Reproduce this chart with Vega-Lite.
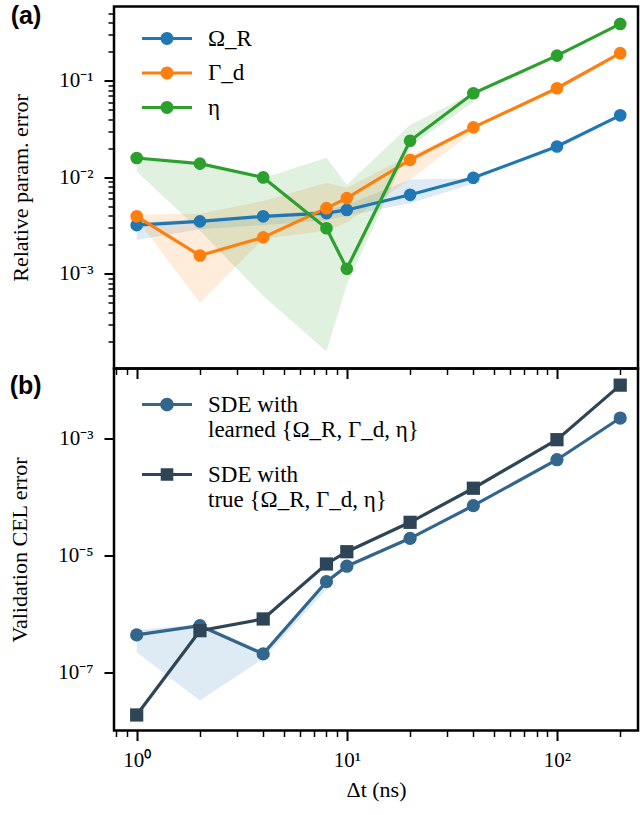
{
  "$schema": "https://vega.github.io/schema/vega-lite/v6.json",
  "padding": {"left": 7, "top": 1.5, "right": 0, "bottom": 5},
  "background": "white",
  "datasets": {
    "params": [
      {"dt": 1, "param": "Ω_R", "err": 0.0032, "lo": 0.00224, "hi": 0.0034},
      {"dt": 2, "param": "Ω_R", "err": 0.0035, "lo": 0.0029, "hi": 0.0037},
      {"dt": 4, "param": "Ω_R", "err": 0.00395, "lo": 0.0032, "hi": 0.0041},
      {"dt": 8, "param": "Ω_R", "err": 0.00427, "lo": 0.0036, "hi": 0.0046},
      {"dt": 10, "param": "Ω_R", "err": 0.0046, "lo": 0.004, "hi": 0.0052},
      {"dt": 20, "param": "Ω_R", "err": 0.0066, "lo": 0.0054, "hi": 0.0095},
      {"dt": 40, "param": "Ω_R", "err": 0.0099, "lo": 0.0086, "hi": 0.0098},
      {"dt": 100, "param": "Ω_R", "err": 0.0209, "lo": null, "hi": null},
      {"dt": 200, "param": "Ω_R", "err": 0.044, "lo": null, "hi": null},
      {"dt": 1, "param": "Γ_d", "err": 0.00395, "lo": 0.0037, "hi": 0.0041},
      {"dt": 2, "param": "Γ_d", "err": 0.00155, "lo": 0.0005, "hi": 0.0042},
      {"dt": 4, "param": "Γ_d", "err": 0.00239, "lo": 0.0023, "hi": 0.0057},
      {"dt": 8, "param": "Γ_d", "err": 0.0048, "lo": 0.0028, "hi": 0.0088},
      {"dt": 10, "param": "Γ_d", "err": 0.0061, "lo": 0.0034, "hi": 0.0078},
      {"dt": 20, "param": "Γ_d", "err": 0.0152, "lo": 0.0095, "hi": 0.017},
      {"dt": 40, "param": "Γ_d", "err": 0.033, "lo": 0.03, "hi": 0.034},
      {"dt": 100, "param": "Γ_d", "err": 0.084, "lo": null, "hi": null},
      {"dt": 200, "param": "Γ_d", "err": 0.194, "lo": null, "hi": null},
      {"dt": 1, "param": "η", "err": 0.0159, "lo": 0.0115, "hi": 0.0159},
      {"dt": 2, "param": "η", "err": 0.0139, "lo": 0.0028, "hi": 0.0135},
      {"dt": 4, "param": "η", "err": 0.01, "lo": 0.00059, "hi": 0.0098},
      {"dt": 8, "param": "η", "err": 0.00297, "lo": 0.000157, "hi": 0.016},
      {"dt": 10, "param": "η", "err": 0.00113, "lo": 0.00077, "hi": 0.0084},
      {"dt": 20, "param": "η", "err": 0.024, "lo": 0.021, "hi": 0.035},
      {"dt": 40, "param": "η", "err": 0.0745, "lo": 0.06, "hi": 0.075},
      {"dt": 100, "param": "η", "err": 0.183, "lo": null, "hi": null},
      {"dt": 200, "param": "η", "err": 0.39, "lo": null, "hi": null}
    ],
    "cel": [
      {"dt": 1, "model": "learned", "err": 4.35e-7, "lo": 2.2e-7, "hi": 5.3e-7},
      {"dt": 2, "model": "learned", "err": 6.25e-7, "lo": 3.3e-8, "hi": 6.6e-7},
      {"dt": 4, "model": "learned", "err": 2.06e-7, "lo": 1.7e-7, "hi": 2.3e-7},
      {"dt": 8, "model": "learned", "err": 3.54e-6, "lo": 2.6e-6, "hi": 3.6e-6},
      {"dt": 10, "model": "learned", "err": 6.5e-6, "lo": null, "hi": null},
      {"dt": 20, "model": "learned", "err": 1.95e-5, "lo": null, "hi": null},
      {"dt": 40, "model": "learned", "err": 7.05e-5, "lo": null, "hi": null},
      {"dt": 100, "model": "learned", "err": 4.3e-4, "lo": null, "hi": null},
      {"dt": 200, "model": "learned", "err": 2.22e-3, "lo": null, "hi": null},
      {"dt": 1, "model": "true", "err": 1.86e-8, "lo": null, "hi": null},
      {"dt": 2, "model": "true", "err": 5.14e-7, "lo": null, "hi": null},
      {"dt": 4, "model": "true", "err": 8.15e-7, "lo": null, "hi": null},
      {"dt": 8, "model": "true", "err": 7.1e-6, "lo": null, "hi": null},
      {"dt": 10, "model": "true", "err": 1.15e-5, "lo": null, "hi": null},
      {"dt": 20, "model": "true", "err": 3.66e-5, "lo": null, "hi": null},
      {"dt": 40, "model": "true", "err": 1.4e-4, "lo": null, "hi": null},
      {"dt": 100, "model": "true", "err": 9.46e-4, "lo": null, "hi": null},
      {"dt": 200, "model": "true", "err": 8.1e-3, "lo": null, "hi": null}
    ]
  },
  "bounds": "flush",
  "spacing": 0,
  "resolve": {
    "scale": {"color": "independent", "fill": "independent", "shape": "independent", "size": "independent"},
    "legend": {"color": "independent", "fill": "independent", "shape": "independent", "size": "independent"}
  },
  "vconcat": [
    {
      "width": 524,
      "height": 362,
      "title": {"text": "(a)", "anchor": "start", "frame": "bounds", "font": "Liberation Sans", "fontSize": 25, "fontWeight": "bold", "color": "black", "offset": 0, "dy": 22, "dx": 1},
      "data": {"name": "params"},
      "layer": [
        {
          "transform": [{"filter": "isValid(datum.lo)"}],
          "mark": {"type": "area", "opacity": 0.15},
          "encoding": {
            "x": {"field": "dt", "type": "quantitative", "scale": {"type": "log", "domain": [0.78, 243], "nice": false},
              "axis": {"orient": "bottom", "values": [1, 10, 100], "labels": false, "tickSize": 10, "tickWidth": 2, "tickColor": "black", "domain": false, "grid": false, "title": null}},
            "y": {"field": "hi", "type": "quantitative", "scale": {"type": "log", "domain": [0.0001045, 0.591], "nice": false},
              "axis": {"orient": "left", "values": [0.001, 0.01, 0.1], "tickSize": 10, "tickWidth": 2, "tickColor": "black", "domain": false, "grid": false, "labelPadding": 11, "titlePadding": 26,
                "labelFont": "Liberation Serif", "labelFontSize": 21, "labelColor": "black", "titleFont": "Liberation Serif", "titleFontSize": 22, "titleFontWeight": "normal", "titleColor": "black",
                "labelExpr": "datum.value > 0.05 ? '10⁻¹' : datum.value > 0.005 ? '10⁻²' : '10⁻³'", "title": "Relative param. error"}},
            "y2": {"field": "lo"},
            "color": {"field": "param", "type": "nominal", "scale": {"domain": ["Ω_R", "Γ_d", "η"], "range": ["#1f77b4", "#ff7f0e", "#2ca02c"]},
              "legend": {"orient": "none", "legendX": 28, "legendY": 15, "title": null, "symbolSize": 1156, "symbolOffset": 8, "labelOffset": 24, "rowPadding": 5.5, "padding": 0,
                "labelFont": "Liberation Serif", "labelFontSize": 23, "labelColor": "black", "labelLimit": 500,
                "symbolType": "M-1.47,-0.09H1.47V0.09H-1.47Z M0.38,0 A0.38,0.38 0 1,1 -0.38,0 A0.38,0.38 0 1,1 0.38,0 Z",
                "symbolStrokeWidth": 0, "symbolOpacity": 1}}
          }
        },
        {
          "mark": {"type": "line", "strokeWidth": 3.2},
          "encoding": {
            "x": {"field": "dt", "type": "quantitative", "axis": null},
            "y": {"field": "err", "type": "quantitative", "axis": null},
            "color": {"field": "param", "type": "nominal", "scale": {"domain": ["Ω_R", "Γ_d", "η"], "range": ["#1f77b4", "#ff7f0e", "#2ca02c"]},
              "legend": {"orient": "none", "legendX": 28, "legendY": 15, "title": null, "symbolSize": 1156, "symbolOffset": 8, "labelOffset": 24, "rowPadding": 5.5, "padding": 0,
                "labelFont": "Liberation Serif", "labelFontSize": 23, "labelColor": "black", "labelLimit": 500,
                "symbolType": "M-1.47,-0.09H1.47V0.09H-1.47Z M0.38,0 A0.38,0.38 0 1,1 -0.38,0 A0.38,0.38 0 1,1 0.38,0 Z",
                "symbolStrokeWidth": 0, "symbolOpacity": 1}}
          }
        },
        {
          "mark": {"type": "point", "filled": true, "size": 160, "opacity": 1},
          "encoding": {
            "x": {"field": "dt", "type": "quantitative",
              "axis": {"orient": "bottom", "values": [0.8, 0.9, 2, 3, 4, 5, 6, 7, 8, 9, 20, 30, 40, 50, 60, 70, 80, 90, 200], "labels": false, "tickSize": 6, "tickWidth": 1.5, "tickColor": "black", "domain": false, "grid": false, "title": null}},
            "y": {"field": "err", "type": "quantitative",
              "axis": {"orient": "left", "values": [0.0002, 0.0003, 0.0004, 0.0005, 0.0006, 0.0007, 0.0008, 0.0009, 0.002, 0.003, 0.004, 0.005, 0.006, 0.007, 0.008, 0.009, 0.02, 0.03, 0.04, 0.05, 0.06, 0.07, 0.08, 0.09, 0.2, 0.3, 0.4, 0.5], "labels": false, "tickSize": 6, "tickWidth": 1.5, "tickColor": "black", "domain": false, "grid": false, "title": null}},
            "color": {"field": "param", "type": "nominal", "scale": {"domain": ["Ω_R", "Γ_d", "η"], "range": ["#1f77b4", "#ff7f0e", "#2ca02c"]},
              "legend": {"orient": "none", "legendX": 28, "legendY": 15, "title": null, "symbolSize": 1156, "symbolOffset": 8, "labelOffset": 24, "rowPadding": 5.5, "padding": 0,
                "labelFont": "Liberation Serif", "labelFontSize": 23, "labelColor": "black", "labelLimit": 500,
                "symbolType": "M-1.47,-0.09H1.47V0.09H-1.47Z M0.38,0 A0.38,0.38 0 1,1 -0.38,0 A0.38,0.38 0 1,1 0.38,0 Z",
                "symbolStrokeWidth": 0, "symbolOpacity": 1}}
          }
        }
      ],
      "resolve": {"axis": {"x": "independent", "y": "independent"}}
    },
    {
      "width": 524,
      "height": 362,
      "title": {"text": "(b)", "anchor": "start", "frame": "bounds", "font": "Liberation Sans", "fontSize": 25, "fontWeight": "bold", "color": "black", "offset": 0, "dy": 30, "dx": 1},
      "data": {"name": "cel"},
      "layer": [
        {
          "transform": [{"filter": "isValid(datum.lo)"}],
          "mark": {"type": "area", "opacity": 0.15, "color": "#1f77b4"},
          "encoding": {
            "x": {"field": "dt", "type": "quantitative", "scale": {"type": "log", "domain": [0.78, 243], "nice": false},
              "axis": {"orient": "bottom", "values": [1, 10, 100], "tickSize": 10, "tickWidth": 2, "tickColor": "black", "domain": false, "grid": false, "labelPadding": 9, "titlePadding": 9,
                "labelFont": "Liberation Serif", "labelFontSize": 21, "labelColor": "black", "titleFont": "Liberation Serif", "titleFontSize": 22, "titleFontWeight": "normal", "titleColor": "black",
                "labelExpr": "datum.value < 5 ? '10⁰' : datum.value < 50 ? '10¹' : '10²'", "title": "Δt (ns)"}},
            "y": {"field": "hi", "type": "quantitative", "scale": {"type": "log", "domain": [1.01e-8, 0.0156], "nice": false},
              "axis": {"orient": "left", "values": [1e-7, 1e-5, 0.001], "tickSize": 10, "tickWidth": 2, "tickColor": "black", "domain": false, "grid": false, "labelPadding": 11, "titlePadding": 26,
                "labelFont": "Liberation Serif", "labelFontSize": 21, "labelColor": "black", "titleFont": "Liberation Serif", "titleFontSize": 22, "titleFontWeight": "normal", "titleColor": "black",
                "labelExpr": "datum.value > 0.0001 ? '10⁻³' : datum.value > 0.000001 ? '10⁻⁵' : '10⁻⁷'", "title": "Validation CEL error"}},
            "y2": {"field": "lo"}
          }
        },
        {
          "mark": {"type": "line", "strokeWidth": 3.2},
          "encoding": {
            "x": {"field": "dt", "type": "quantitative", "axis": null},
            "y": {"field": "err", "type": "quantitative", "axis": null},
            "color": {"field": "model", "type": "nominal", "scale": {"domain": ["learned", "true"], "range": ["#33668c", "#2e4557"]}}
          }
        },
        {
          "transform": [{"filter": "datum.model == 'learned'"}],
          "mark": {"type": "point", "filled": true, "opacity": 1, "size": 175, "shape": "circle"},
          "encoding": {
            "x": {"field": "dt", "type": "quantitative",
              "axis": {"orient": "bottom", "values": [0.8, 0.9, 2, 3, 4, 5, 6, 7, 8, 9, 20, 30, 40, 50, 60, 70, 80, 90, 200], "labels": false, "tickSize": 6, "tickWidth": 1.5, "tickColor": "black", "domain": false, "grid": false, "title": null}},
            "y": {"field": "err", "type": "quantitative", "axis": null},
            "color": {"field": "model", "type": "nominal", "scale": {"domain": ["learned", "true"], "range": ["#33668c", "#2e4557"]}}
          }
        },
        {
          "transform": [{"filter": "datum.model == 'true'"}],
          "mark": {"type": "point", "filled": true, "opacity": 1, "size": 175, "shape": "square"},
          "encoding": {
            "x": {"field": "dt", "type": "quantitative", "axis": null},
            "y": {"field": "err", "type": "quantitative", "axis": null},
            "color": {"field": "model", "type": "nominal", "scale": {"domain": ["learned", "true"], "range": ["#33668c", "#2e4557"]}}
          }
        },
        {
          "mark": {"type": "point", "filled": true, "opacity": 0},
          "encoding": {
            "x": {"field": "dt", "type": "quantitative", "axis": null},
            "y": {"field": "err", "type": "quantitative", "axis": null},
            "shape": {"field": "model", "type": "nominal", "scale": {"domain": ["learned", "true"], "range": ["M-1.47,-0.09H1.47V0.09H-1.47Z M0.4,0 A0.4,0.4 0 1,1 -0.4,0 A0.4,0.4 0 1,1 0.4,0 Z", "M-1.47,-0.09H1.47V0.09H-1.47Z M-0.37,-0.37H0.37V0.37H-0.37Z"]}},
            "color": {"field": "model", "type": "nominal", "scale": {"domain": ["learned", "true"], "range": ["#33668c", "#2e4557"]},
              "legend": {"orient": "none", "legendX": 28, "legendY": 19, "title": null, "symbolSize": 1156, "symbolOffset": 8, "labelOffset": 24, "rowPadding": 16, "padding": 0,
                "labelFont": "Liberation Serif", "labelFontSize": 23, "labelColor": "black", "labelLimit": 500,
                "labelExpr": "datum.label == 'learned' ? ['SDE with', 'learned {Ω_R, Γ_d, η}'] : ['SDE with', 'true {Ω_R, Γ_d, η}']",
                "symbolStrokeWidth": 0, "symbolOpacity": 1}}
          }
        }
      ],
      "resolve": {"axis": {"x": "independent", "y": "independent"}}
    }
  ],
  "config": {
    "view": {"stroke": "black", "strokeWidth": 2.5}
  }
}
